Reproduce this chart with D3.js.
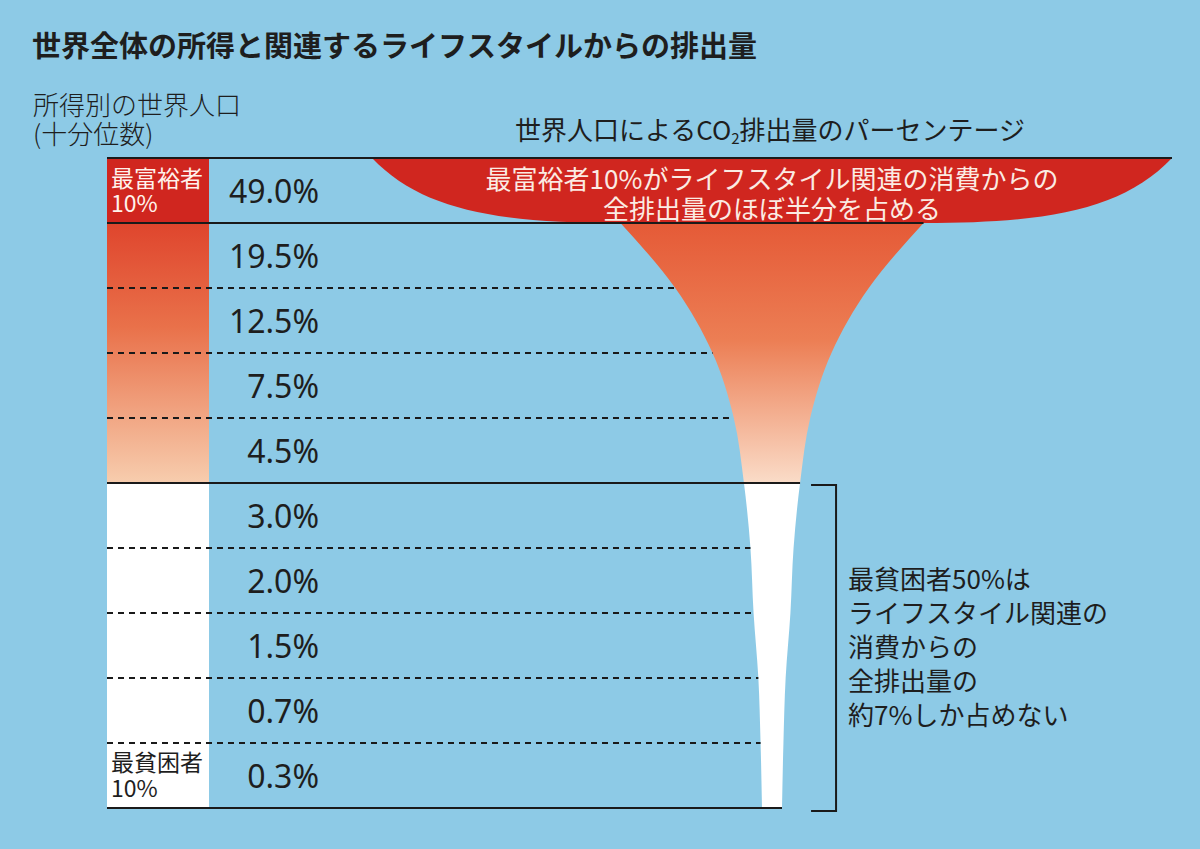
<!DOCTYPE html>
<html lang="ja">
<head>
<meta charset="utf-8">
<script src="https://cdn.jsdelivr.net/npm/d3@7"></script>
<style>
  body { margin: 0; background: #8dcae6; }
  svg { display: block; }
  text { font-family: "Noto Sans CJK JP", "Noto Sans", sans-serif; fill: #1e1e1e; }
</style>
</head>
<body>
<svg id="chart"></svg>
<script>
// income deciles, richest first, and their share of lifestyle CO2 emissions
const deciles = ["D10", "D9", "D8", "D7", "D6", "D5", "D4", "D3", "D2", "D1"];
const shares = [49.0, 19.5, 12.5, 7.5, 4.5, 3.0, 2.0, 1.5, 0.7, 0.3];
const shareLabels = ["49.0%", "19.5%", "12.5%", "7.5%", "4.5%", "3.0%", "2.0%", "1.5%", "0.7%", "0.3%"];
const tiers = ["top", "mid", "mid", "mid", "mid", "low", "low", "low", "low", "low"];

const titleText = "世界全体の所得と関連するライフスタイルからの排出量";
const leftHeader = ["所得別の世界人口", "(十分位数)"];
const topLabel = ["最富裕者", "10%"];
const bottomLabel = ["最貧困者", "10%"];
const richNote = ["最富裕者10%がライフスタイル関連の消費からの", "全排出量のほぼ半分を占める"];
const poorNote = ["最貧困者50%は", "ライフスタイル関連の", "消費からの", "全排出量の", "約7%しか占めない"];

const width = 1200, height = 849;
const svg = d3.select("#chart").attr("width", width).attr("height", height);

const barX = 107, barW = 102, cx = 772;

const y = d3.scaleBand().domain(deciles).range([158, 808]);
// half width of the funnel at the top of each decile row
const half = d3.scalePow().exponent(1.1).domain([0, 49]).range([10, 400]);
const bottomY = y.range()[1];

const defs = svg.append("defs");
const barGrad = defs.append("linearGradient")
    .attr("id", "barGrad").attr("gradientUnits", "userSpaceOnUse")
    .attr("x1", 0).attr("x2", 0)
    .attr("y1", y(deciles[1])).attr("y2", y(deciles[5]));
barGrad.append("stop").attr("offset", 0).attr("stop-color", "#df452d");
barGrad.append("stop").attr("offset", 0.4).attr("stop-color", "#e9714a");
barGrad.append("stop").attr("offset", 1).attr("stop-color", "#f7cdae");

const cut = (y(deciles[5]) - y(deciles[1])) / (bottomY - y(deciles[1]));
const funGrad = defs.append("linearGradient")
    .attr("id", "funGrad").attr("gradientUnits", "userSpaceOnUse")
    .attr("x1", 0).attr("x2", 0)
    .attr("y1", y(deciles[1])).attr("y2", bottomY);
funGrad.append("stop").attr("offset", 0).attr("stop-color", "#e55a37");
funGrad.append("stop").attr("offset", cut * 0.45).attr("stop-color", "#ec7e54");
funGrad.append("stop").attr("offset", cut).attr("stop-color", "#fadcc8");
funGrad.append("stop").attr("offset", cut).attr("stop-color", "#ffffff");
funGrad.append("stop").attr("offset", 1).attr("stop-color", "#ffffff");

// title and headers
svg.append("text").attr("x", 32).attr("y", 57)
    .style("font-size", "29px").style("font-weight", 700)
    .text(titleText);

svg.append("g").selectAll("text").data(leftHeader).join("text")
    .attr("x", 33).attr("y", (d, i) => 115 + i * 29)
    .style("font-size", "26px").style("font-weight", 300)
    .text(d => d);

const head = svg.append("text").attr("x", cx - 2).attr("y", 140)
    .attr("text-anchor", "middle").style("font-size", "26px");
head.append("tspan").text("世界人口によるCO");
head.append("tspan").attr("dy", 4).style("font-size", "15px").text("2");
head.append("tspan").attr("dy", -4).text("排出量のパーセンテージ");

// left column of deciles
const fillFor = t => t === "top" ? "#d0261f" : t === "mid" ? "url(#barGrad)" : "#ffffff";
svg.append("g").selectAll("rect").data(deciles).join("rect")
    .attr("x", barX).attr("y", d => y(d))
    .attr("width", barW).attr("height", y.bandwidth())
    .attr("fill", (d, i) => fillFor(tiers[i]));

// funnel: red bowl for the top decile, steep at the rim and flat at the bottom
const yT = y(deciles[0]), yB = y(deciles[1]);
const rim = half(shares[0]), neck = half(shares[1]);
const bowl = d3.path();
bowl.moveTo(cx - rim, yT);
bowl.bezierCurveTo(cx - rim + 0.2 * (rim - neck), yT + 0.8 * (yB - yT),
                   cx - rim + 0.5 * (rim - neck), yB, cx - neck, yB);
bowl.lineTo(cx + neck, yB);
bowl.bezierCurveTo(cx + rim - 0.5 * (rim - neck), yB,
                   cx + rim - 0.2 * (rim - neck), yT + 0.8 * (yB - yT), cx + rim, yT);
bowl.closePath();
svg.append("path").attr("d", bowl.toString()).attr("fill", "#d0261f");

// funnel body for the remaining deciles
const bodyPts = deciles.slice(1).map((d, i) => ({ y: y(d), h: half(shares[i + 1]) }));
bodyPts.push({ y: bottomY, h: half(0) });
svg.append("path")
    .datum(bodyPts)
    .attr("d", d3.area().curve(d3.curveMonotoneY)
        .y(d => d.y).x0(d => cx - d.h).x1(d => cx + d.h))
    .attr("fill", "url(#funGrad)");

// row separators
const solidRows = [0, 1, 5];
const dashRows = [2, 3, 4, 6, 7, 8, 9];
const sep = svg.append("g").attr("stroke", "#1a1a1a");
sep.selectAll("line.solid").data(solidRows).join("line")
    .attr("class", "solid")
    .attr("x1", barX).attr("x2", i => cx + half(shares[i]))
    .attr("y1", i => y(deciles[i])).attr("y2", i => y(deciles[i]))
    .attr("stroke-width", 2);
sep.append("line")
    .attr("x1", barX).attr("x2", cx + half(0))
    .attr("y1", bottomY).attr("y2", bottomY)
    .attr("stroke-width", 2);
sep.selectAll("line.dash").data(dashRows).join("line")
    .attr("class", "dash")
    .attr("x1", barX).attr("x2", i => cx - half(shares[i]))
    .attr("y1", i => y(deciles[i])).attr("y2", i => y(deciles[i]))
    .attr("stroke-width", 2).attr("stroke-dasharray", "6,5");

// share labels
svg.append("g").selectAll("text").data(shareLabels).join("text")
    .attr("x", 319).attr("y", (d, i) => y(deciles[i]) + y.bandwidth() / 2 + 12)
    .attr("text-anchor", "end")
    .style("font-size", "32px")
    .style("font-family", "'Noto Sans', sans-serif")
    .text(d => d);

// decile labels
svg.append("g").selectAll("text").data(topLabel).join("text")
    .attr("x", barX + 4).attr("y", (d, i) => y(deciles[0]) + 29 + i * 25)
    .style("font-size", "23px").style("fill", "#fff2ec")
    .text(d => d);
svg.append("g").selectAll("text").data(bottomLabel).join("text")
    .attr("x", barX + 4).attr("y", (d, i) => y(deciles[9]) + 28 + i * 26)
    .style("font-size", "23px")
    .text(d => d);

// notes
svg.append("g").selectAll("text").data(richNote).join("text")
    .attr("x", cx).attr("y", (d, i) => y(deciles[0]) + 31 + i * 30)
    .attr("text-anchor", "middle")
    .style("font-size", "26px").style("fill", "#fbebe3")
    .text(d => d);

const brX = cx + half(shares[5]) + 36;
svg.append("path")
    .attr("d", `M${brX - 25},${y(deciles[5]) + 2}H${brX}V${bottomY + 3}H${brX - 25}`)
    .attr("fill", "none").attr("stroke", "#1a1a1a").attr("stroke-width", 2);

svg.append("g").selectAll("text").data(poorNote).join("text")
    .attr("x", brX + 12).attr("y", (d, i) => 589 + i * 34)
    .style("font-size", "26px")
    .text(d => d);
</script>
</body>
</html>
